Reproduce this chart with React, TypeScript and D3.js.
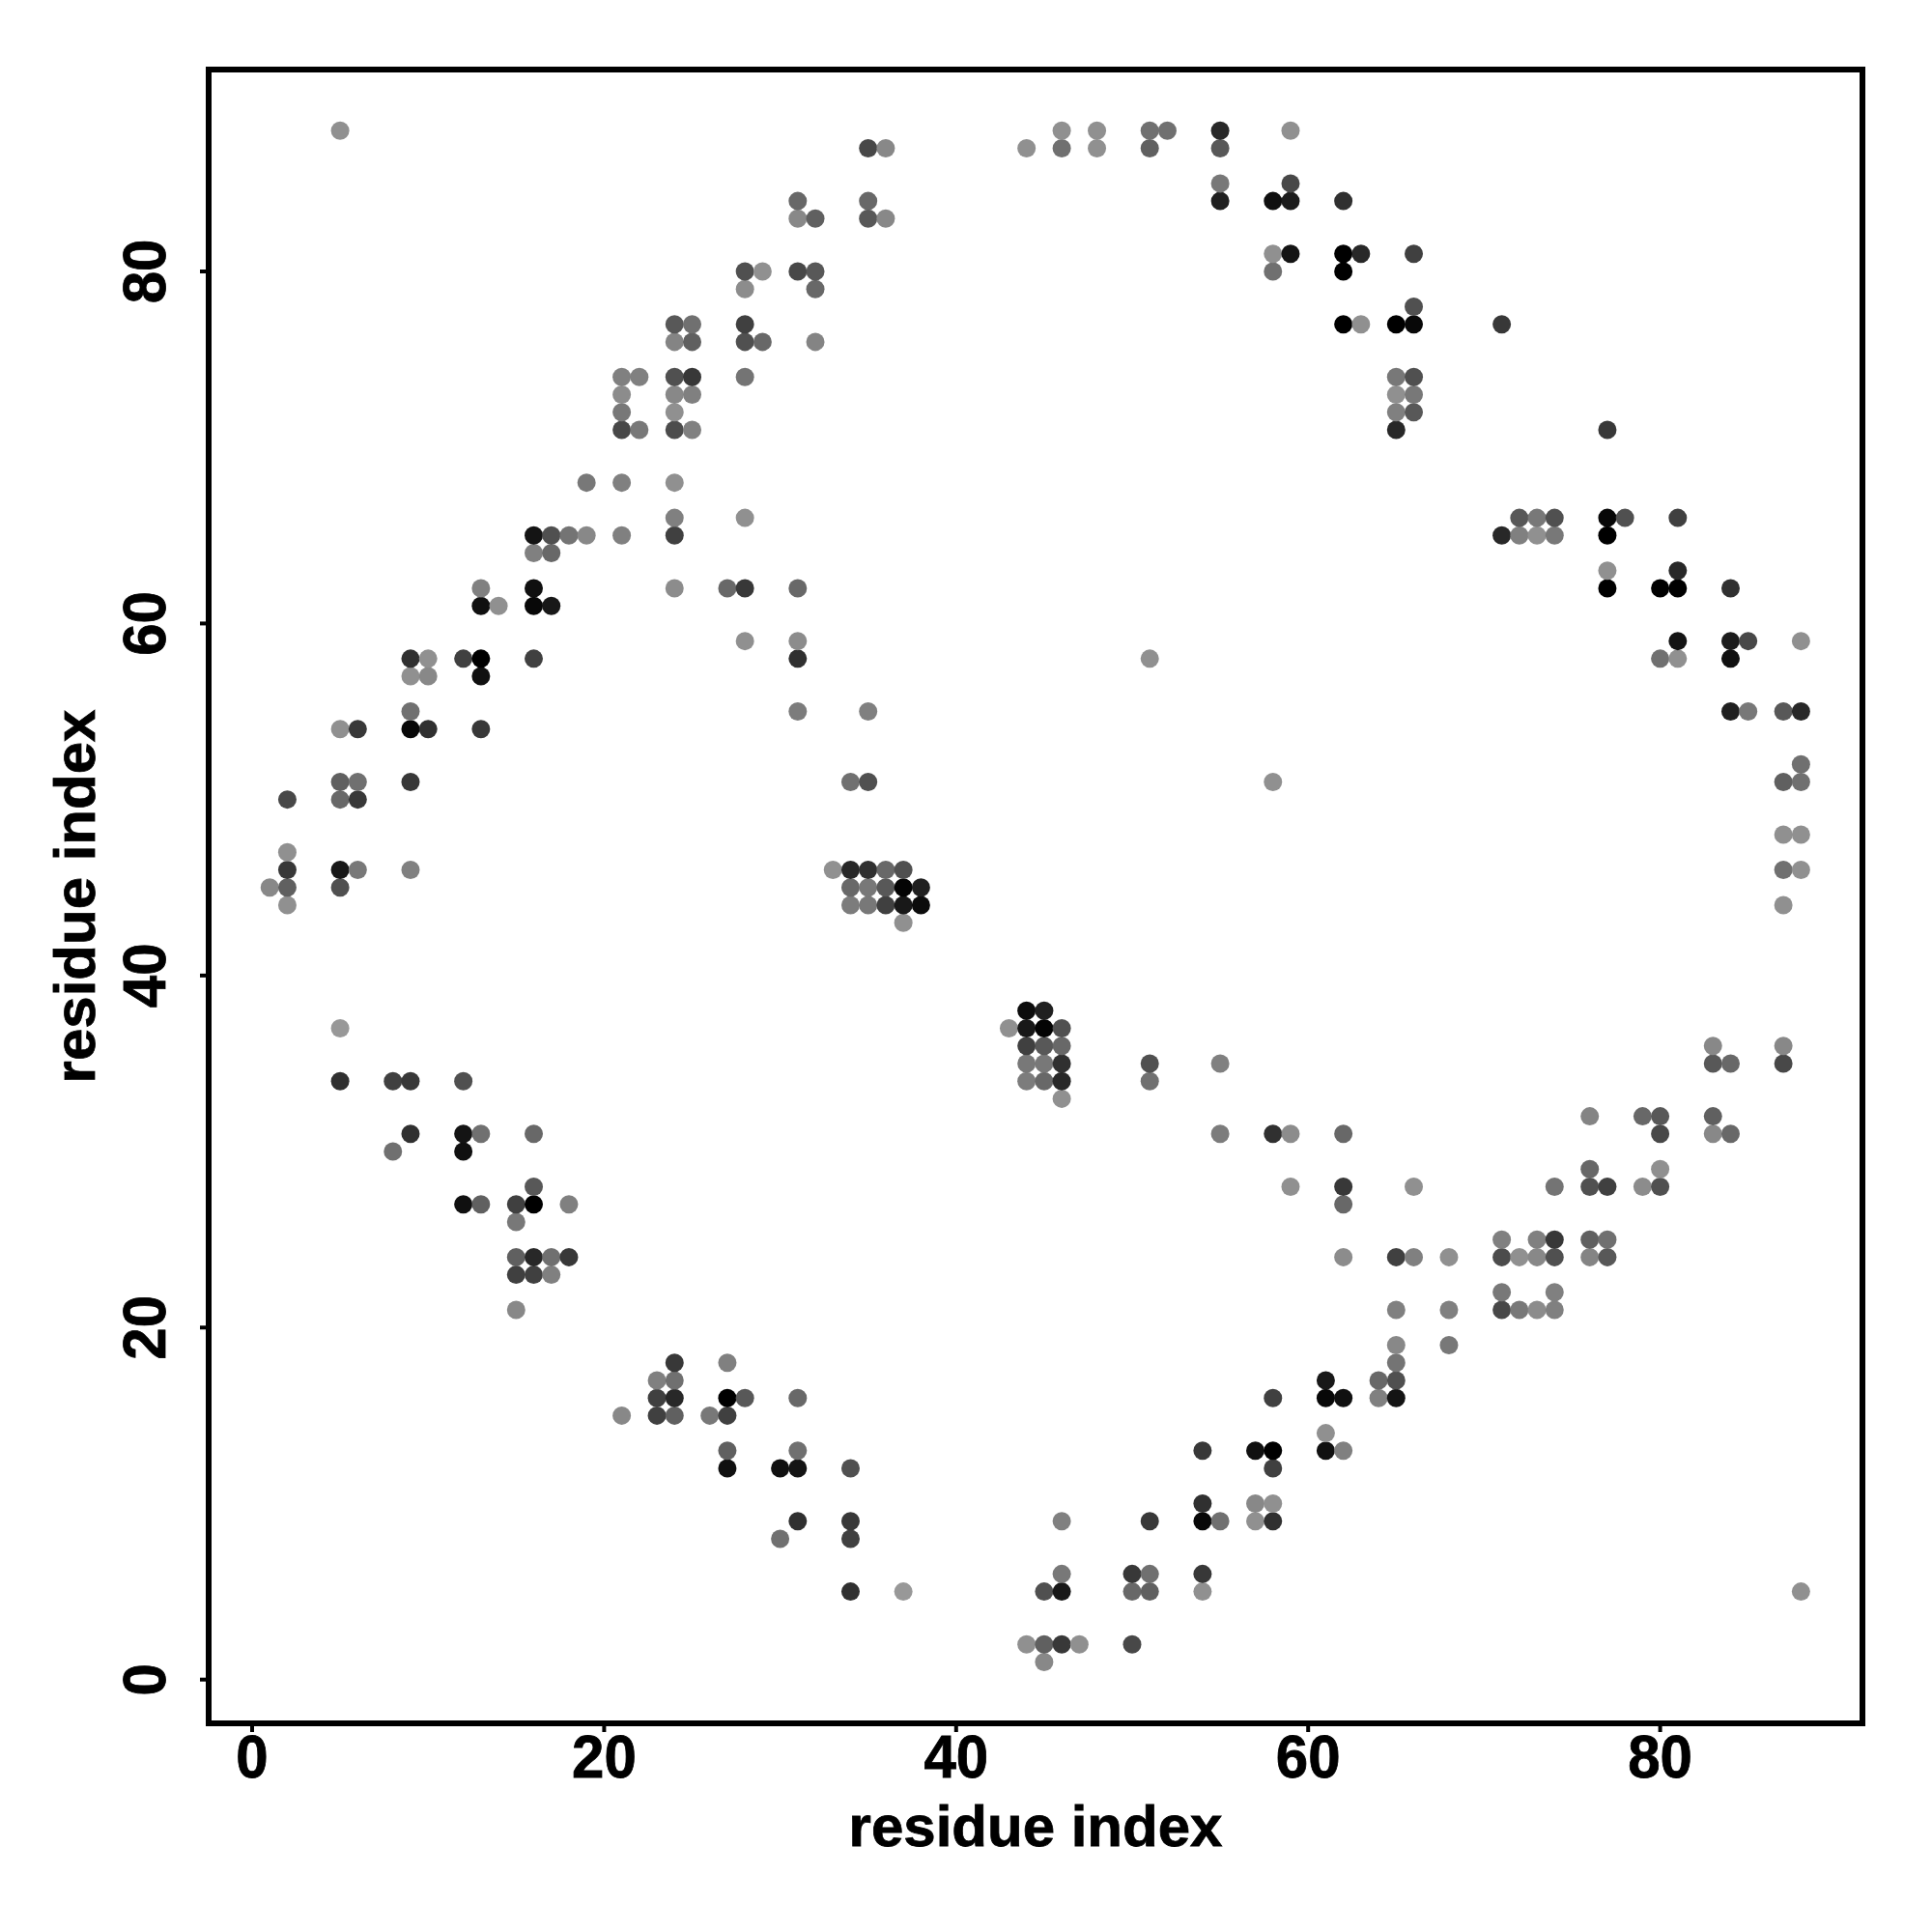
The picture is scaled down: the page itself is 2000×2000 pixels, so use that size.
import React from "react";
import * as d3 from "d3";

// Contact map: symmetric, so each contact is listed once as [i, j, grey] with i < j
// and mirrored when drawn.
const contacts: [number, number, number][] = [
  [1,45,0x88],
  [2,44,0x90],[2,45,0x60],[2,46,0x38],[2,47,0x90],[2,50,0x48],
  [5,34,0x30],[5,37,0x98],[5,45,0x50],[5,46,0x18],[5,50,0x68],[5,51,0x60],[5,54,0x90],[5,88,0x90],
  [6,46,0x78],[6,50,0x38],[6,51,0x70],[6,54,0x38],
  [8,30,0x70],[8,34,0x40],
  [9,31,0x30],[9,34,0x38],[9,46,0x80],[9,51,0x38],[9,54,0x08],[9,55,0x70],[9,57,0x90],[9,58,0x30],
  [10,54,0x30],[10,57,0x88],[10,58,0x90],
  [12,27,0x10],[12,30,0x10],[12,31,0x14],[12,34,0x50],[12,58,0x40],
  [13,27,0x60],[13,31,0x70],[13,54,0x38],[13,57,0x10],[13,58,0x00],[13,61,0x10],[13,62,0x80],
  [14,61,0x90],
  [15,21,0x88],[15,23,0x40],[15,24,0x60],[15,26,0x78],[15,27,0x40],
  [16,23,0x40],[16,24,0x28],[16,27,0x00],[16,28,0x58],[16,31,0x68],[16,58,0x40],[16,61,0x08],[16,62,0x10],[16,64,0x80],[16,65,0x14],
  [17,23,0x80],[17,24,0x70],[17,61,0x18],[17,64,0x68],[17,65,0x50],
  [18,24,0x38],[18,27,0x80],[18,65,0x74],
  [19,65,0x88],[19,68,0x78],
  [21,65,0x80],[21,68,0x80],[21,71,0x48],[21,72,0x78],[21,73,0x8c],[21,74,0x80],
  [22,71,0x78],[22,74,0x80],
  [24,62,0x8c],[24,65,0x40],[24,66,0x80],[24,68,0x90],[24,71,0x4c],[24,72,0x90],[24,73,0x88],[24,74,0x50],[24,76,0x84],[24,77,0x58],
  [25,71,0x80],[25,73,0x80],[25,74,0x38],[25,76,0x60],[25,77,0x70],
  [27,62,0x68],
  [28,59,0x90],[28,62,0x38],[28,66,0x90],[28,74,0x74],[28,76,0x50],[28,77,0x40],[28,79,0x8c],[28,80,0x50],
  [29,76,0x68],[29,80,0x90],
  [31,55,0x7c],[31,58,0x30],[31,59,0x8c],[31,62,0x68],[31,80,0x48],[31,83,0x88],[31,84,0x68],
  [32,76,0x84],[32,79,0x68],[32,80,0x58],[32,83,0x60],
  [33,46,0x90],
  [34,44,0x7c],[34,45,0x68],[34,46,0x28],[34,51,0x70],
  [35,44,0x78],[35,45,0x78],[35,46,0x30],[35,51,0x50],[35,55,0x80],[35,83,0x58],[35,84,0x68],[35,87,0x48],
  [36,44,0x40],[36,45,0x58],[36,46,0x68],[36,83,0x88],[36,87,0x88],
  [37,43,0x90],[37,44,0x18],[37,45,0x04],[37,46,0x50],
  [38,44,0x0c],[38,45,0x20],
  [44,87,0x90],
  [46,87,0x70],[46,88,0x90],
  [48,87,0x90],[48,88,0x90],
  [51,58,0x90],[51,87,0x60],[51,88,0x70],
  [52,88,0x70],
  [55,84,0x20],[55,85,0x78],[55,87,0x58],[55,88,0x28],
  [58,80,0x70],[58,81,0x90],[58,84,0x10],
  [59,81,0x14],[59,84,0x1c],[59,85,0x48],[59,88,0x90],
  [62,77,0x00],[62,80,0x00],[62,81,0x00],[62,84,0x30],
  [63,77,0x90],[63,81,0x28],
  [65,71,0x28],[65,72,0x80],[65,73,0x90],[65,74,0x78],[65,77,0x00],
  [66,72,0x58],[66,73,0x78],[66,74,0x50],[66,77,0x08],[66,78,0x50],[66,81,0x40],
  [71,77,0x38],
];
const tickValues = [0, 20, 40, 60, 80];
const axisTitle = "residue index";

const FONT = '"Liberation Sans", Arial, Helvetica, sans-serif';
const textStyle = {
  fontFamily: FONT,
  fontWeight: "bold" as const,
  fontSize: 60,
  fill: "#000",
  stroke: "#000",
  strokeWidth: 0.8,
  textAnchor: "middle" as const,
};

export default function App() {
  const x = d3.scaleLinear().domain([0, 80]).range([261, 1718.6]);
  const y = d3.scaleLinear().domain([0, 80]).range([1738.7, 281]);
  const points = contacts.flatMap(([i, j, g]) => [
    { px: i, py: j, g },
    { px: j, py: i, g },
  ]);
  return (
    <svg
      width={2000}
      height={2000}
      viewBox="0 0 2000 2000"
      style={{ position: "absolute", left: 0, top: 0, background: "#fff" }}
    >
      {points.map((p, k) => (
        <circle
          key={k}
          cx={x(p.px)}
          cy={y(p.py)}
          r={9.5}
          fill={d3.rgb(p.g, p.g, p.g).formatHex()}
        />
      ))}
      <rect x={216} y={72} width={1712} height={1712} fill="none" stroke="#000" strokeWidth={6} />
      {tickValues.map((t) => (
        <g key={`x${t}`}>
          <line x1={x(t)} x2={x(t)} y1={1784} y2={1793} stroke="#000" strokeWidth={4} />
          <text transform={`translate(${x(t)},1840) scale(1,1.05)`} style={textStyle}>
            {t}
          </text>
        </g>
      ))}
      {tickValues.map((t) => (
        <g key={`y${t}`}>
          <line x1={207} x2={216} y1={y(t)} y2={y(t)} stroke="#000" strokeWidth={4} />
          <text transform={`translate(170.5,${y(t)}) rotate(-90) scale(1,1.05)`} style={textStyle}>
            {t}
          </text>
        </g>
      ))}
      <text x={1072} y={1911} style={textStyle}>
        {axisTitle}
      </text>
      <text transform={`translate(98,928) rotate(-90)`} style={textStyle}>
        {axisTitle}
      </text>
    </svg>
  );
}
